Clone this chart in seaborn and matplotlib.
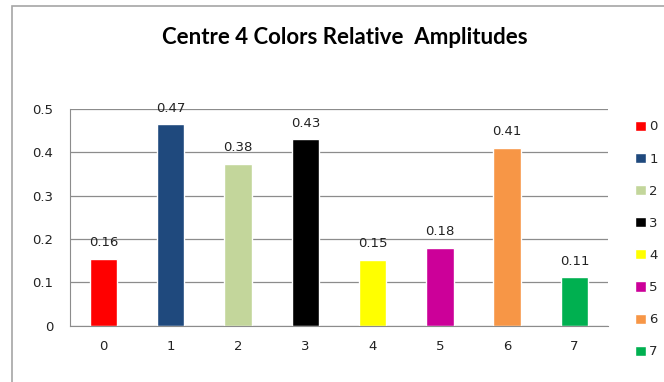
import pandas as pd
import matplotlib.pyplot as plt
import seaborn as sns
from matplotlib.patches import Rectangle

# Chart data
categories = ['0', '1', '2', '3', '4', '5', '6', '7']
amplitudes = [0.154, 0.465, 0.373, 0.430, 0.152, 0.180, 0.410, 0.112]
value_labels = ['0.16', '0.47', '0.38', '0.43', '0.15', '0.18', '0.41', '0.11']
colors = ['#FF0000', '#1F497D', '#C3D69B', '#000000',
          '#FFFF00', '#CC0099', '#F79646', '#00B050']

df = pd.DataFrame({'Color': categories, 'Amplitude': amplitudes})

sns.set_style('white')
plt.rcParams['font.family'] = ['DejaVu Sans']

fig = plt.figure(figsize=(6.64, 3.82), dpi=100)
fig.patches.append(Rectangle((0.018, -0.1), 1.2, 1.084, transform=fig.transFigure,
                             fill=False, edgecolor='#A6A6A6', linewidth=1.2))

ax = fig.add_axes([0.105, 0.147, 0.811, 0.568])
sns.barplot(data=df, x='Color', y='Amplitude', hue='Color', palette=colors,
            dodge=False, width=0.41, saturation=1, legend=True, ax=ax)

for i, txt in enumerate(value_labels):
    ax.text(i, amplitudes[i] + 0.022, txt, ha='center', va='bottom',
            fontsize=9.5, color='#222222')

ax.set_ylim(0, 0.5)
ax.set_yticks([0, 0.1, 0.2, 0.3, 0.4, 0.5])
ax.set_yticklabels(['0', '0.1', '0.2', '0.3', '0.4', '0.5'])
ax.yaxis.grid(True, color='#8C8C8C', linewidth=0.9)
ax.set_axisbelow(True)
for side in ['top', 'right']:
    ax.spines[side].set_visible(False)
for side in ['left', 'bottom']:
    ax.spines[side].set_color('#8C8C8C')
ax.tick_params(axis='both', labelsize=9.5, colors='#222222', length=0, pad=12)
ax.tick_params(axis='x', pad=10)
ax.set_xlabel('')
ax.set_ylabel('')

leg = ax.legend(loc='upper left', bbox_to_anchor=(0.947, 0.702),
                bbox_transform=fig.transFigure, frameon=False,
                handlelength=0.8, handleheight=0.8, handletextpad=0.25,
                labelspacing=1.45, fontsize=9.5, borderpad=0)

fig.text(0.52, 0.903, 'Centre 4 Colors Relative  Amplitudes', ha='center',
         va='center', fontsize=16, fontweight='bold', family='Lato', color='black')

fig.savefig('out.png', dpi=100)
